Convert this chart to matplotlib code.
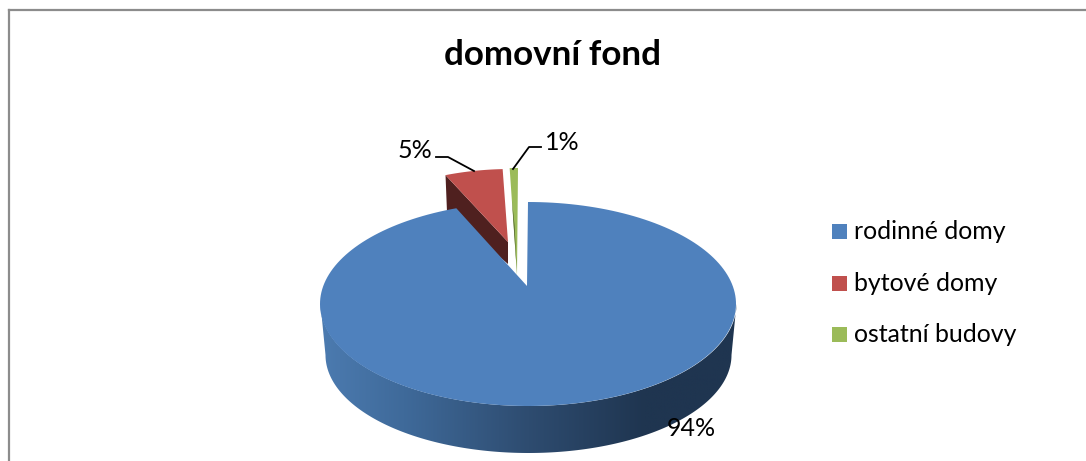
import numpy as np
import matplotlib
matplotlib.use('Agg')
import matplotlib.pyplot as plt
from matplotlib.colors import LinearSegmentedColormap
from matplotlib.patches import Polygon, Rectangle

# data
title = 'domovní fond'
categories = ['rodinné domy', 'bytové domy', 'ostatní budovy']
shares = [94.4, 4.9, 0.7]
labels = ['94%', '5%', '1%']

colors = ['#4F81BD', '#C0504D', '#9BBB59']
dark_sides = ['#1F3550', '#4F201F', '#4E5E2D']

plt.rcParams['font.family'] = ['Lato', 'DejaVu Sans']

fig = plt.figure(figsize=(10.86, 4.61), dpi=100)
ax = fig.add_axes([0, 0, 1, 1])


def arc(cx, cy, rx, ry, a0, a1, n=200):
    # angles in degrees, clockwise from the top of the pie
    t = np.radians(np.linspace(a0, a1, n))
    return np.column_stack([cx + rx * np.sin(t), cy - ry * np.cos(t)])


# slice angles from the shares
edges = np.cumsum([0] + shares) / sum(shares) * 360

# side of the big slice, with horizontal gradient
top_edge = arc(528.5, 304, 208, 102, 90, 270)
low_edge = arc(528.5, 355, 203, 98, 270, 90)
side = Polygon(np.vstack([top_edge, low_edge]), closed=True, fc='none', ec='none')
ax.add_patch(side)
side_cmap = LinearSegmentedColormap.from_list(
    'side', [(0, '#4C7BB0'), (0.2, '#3F6A9A'), (0.5, '#2E4C70'), (0.78, '#1F3550'), (1, '#1F3550')])
grad = ax.imshow(np.linspace(0, 1, 256).reshape(1, -1), cmap=side_cmap, aspect='auto',
                 extent=(320, 737, 460, 300), zorder=1)
grad.set_clip_path(side)

# red slice, pulled out
red_arc = arc(511, 269, 190, 100, edges[1] - 360, edges[2] - 360)
red_apex = (508, 242)
red_low = (508, 264)
ax.add_patch(Polygon(np.vstack([red_arc[0], red_apex, red_low, (447, 212)]),
                     fc=dark_sides[1], ec='none', zorder=2))
ax.add_patch(Polygon(np.vstack([red_arc, red_apex]), fc=colors[1], ec='none', zorder=3))

# green slice, pulled out
green_arc = arc(518, 270, 190, 102, edges[2] - 360, edges[3] - 360)
green_apex = (517, 275)
ax.add_patch(Polygon(np.vstack([green_arc, green_apex]), fc=colors[2], ec='none', zorder=2))
ax.add_patch(Polygon([(512, 200), (514.5, 225), green_apex], fc=dark_sides[2], ec='none', zorder=3))

# big slice on top
blue_arc = arc(528, 304, 208, 102, edges[0], edges[1])
ax.add_patch(Polygon(np.vstack([blue_arc, (527, 286)]), fc=colors[0], ec='none', zorder=4))

# data labels and leader lines
ax.text(691, 428, labels[0], fontsize=18, ha='center', va='center', color='black', zorder=6)
ax.text(415, 150, labels[1], fontsize=18, ha='center', va='center', color='black', zorder=6)
ax.text(562, 142, labels[2], fontsize=18, ha='center', va='center', color='black', zorder=6)
ax.plot([436, 448, 474], [157, 157, 171], color='black', lw=1.3, zorder=6)
ax.plot([541, 529, 513], [147, 147, 169], color='black', lw=1.3, zorder=6)

# legend
for cat, col, y in zip(categories, colors, [231.5, 283.5, 334.5]):
    ax.add_patch(Rectangle((832, y - 7.5), 15, 15, fc=col, ec='none'))
    ax.text(854, y + 7.5, cat, fontsize=17.9, ha='left', va='baseline', color='black')

ax.text(552, 55, title, fontsize=25.2, fontweight='bold', ha='center', va='center', color='black')

# chart frame, only top and left are in the crop
ax.plot([8.5, 1086], [10, 10], color='#8C8C8C', lw=1.6, zorder=7)
ax.plot([8.5, 8.5], [10, 461], color='#8C8C8C', lw=1.6, zorder=7)

ax.set_xlim(0, 1086)
ax.set_ylim(461, 0)
ax.axis('off')
fig.savefig('out.png', dpi=100, facecolor='white')
